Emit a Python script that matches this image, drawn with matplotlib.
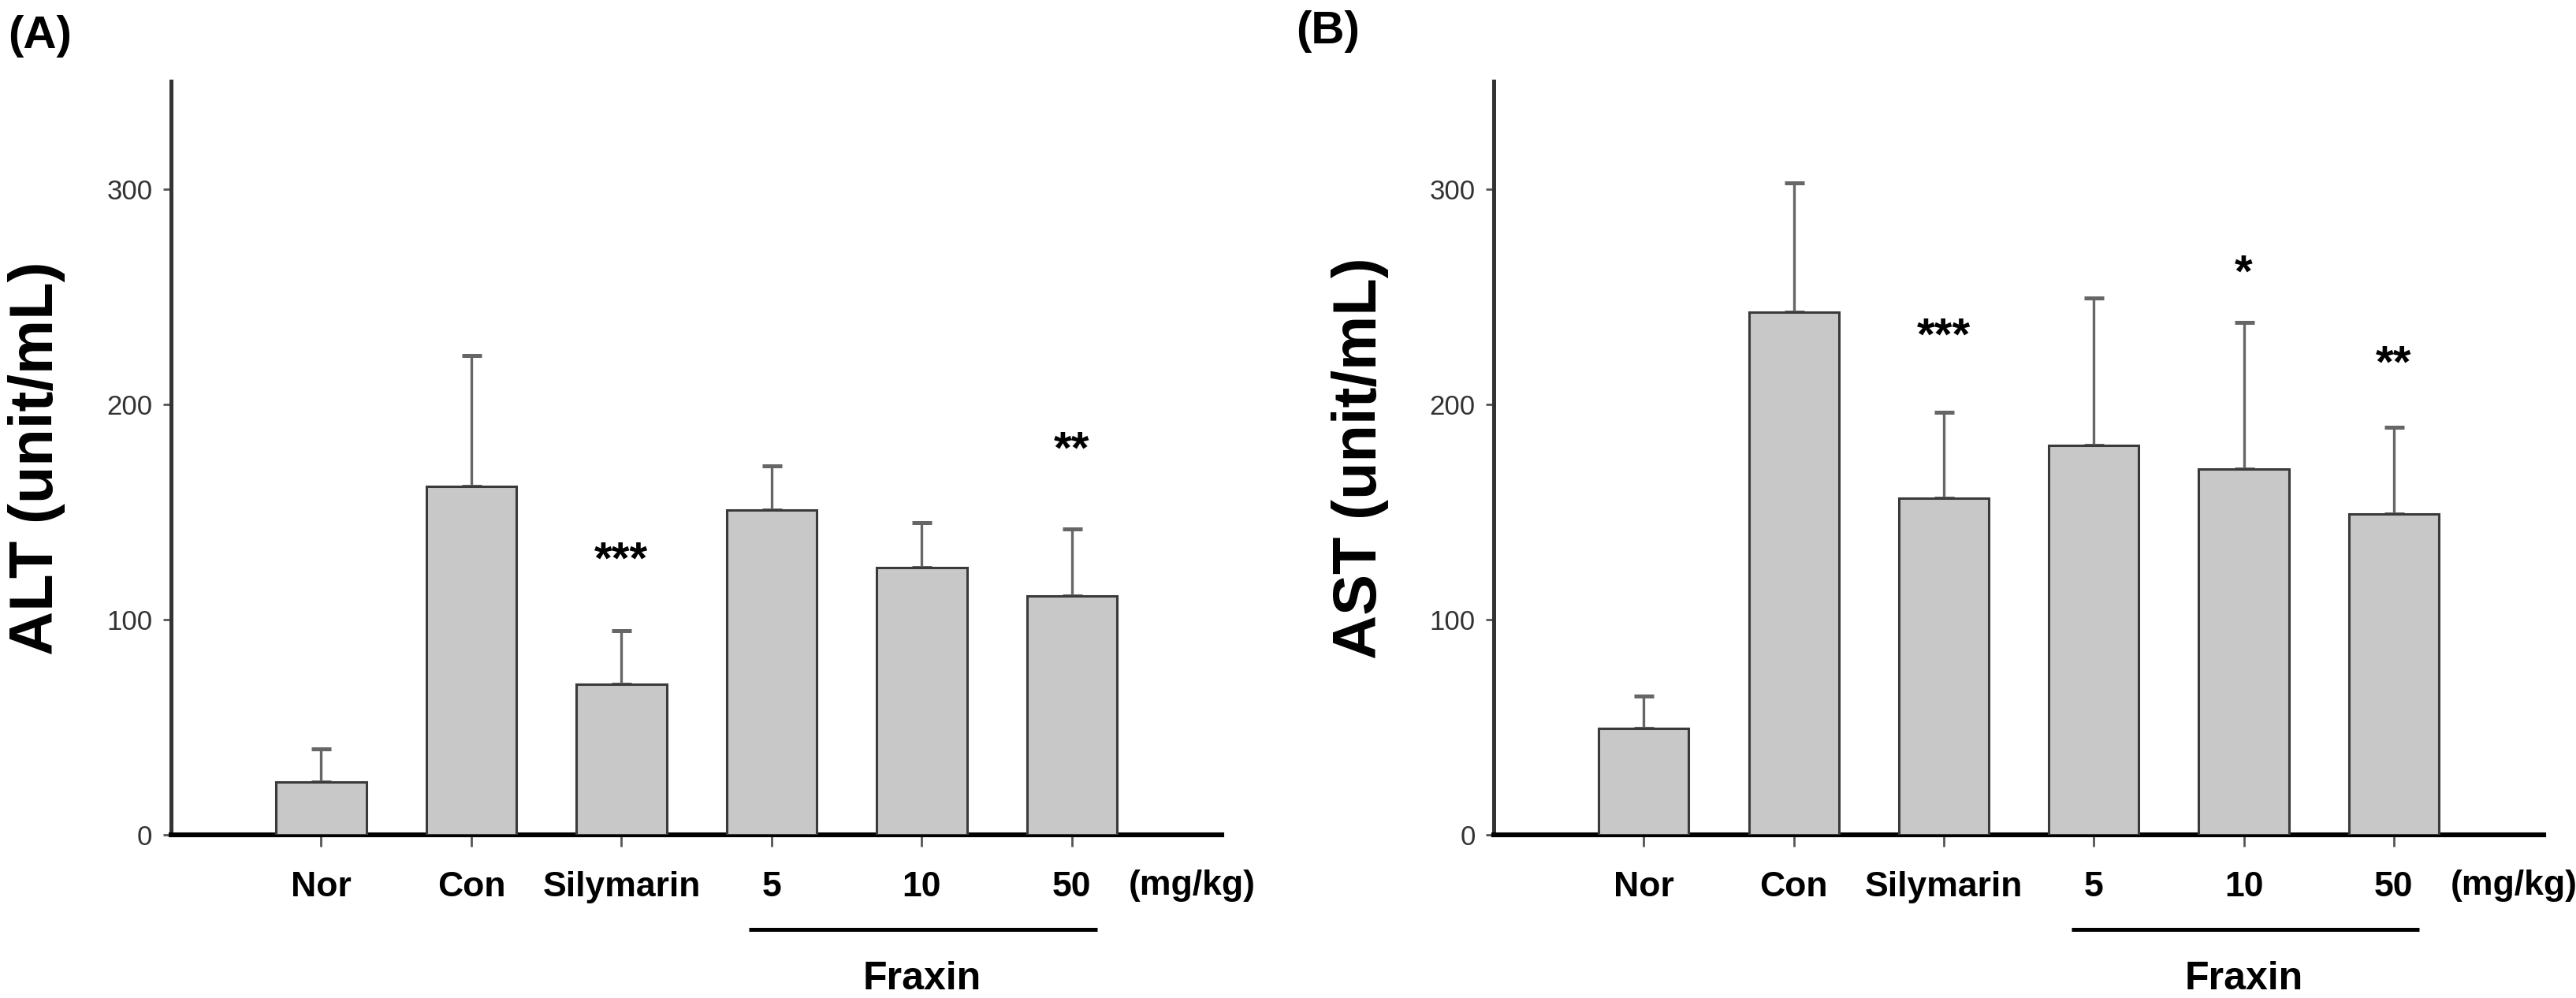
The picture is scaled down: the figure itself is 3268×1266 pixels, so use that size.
import matplotlib
matplotlib.use("Agg")
import matplotlib.pyplot as plt
import numpy as np

plt.rcParams["font.family"] = ["Liberation Sans", "DejaVu Sans"]

# groups on the x axis
groups = ["Nor", "Con", "Silymarin", "5", "10", "50"]

# ALT (panel A)
alt_mean = [24.5, 161.8, 70.0, 151.0, 124.0, 111.0]
alt_err = [15.5, 61.0, 25.0, 20.5, 21.0, 31.0]
alt_stars = ["", "", "***", "", "", "**"]
alt_star_y = [0, 0, 127, 0, 0, 178]

# AST (panel B)
ast_mean = [49.5, 242.7, 156.2, 180.9, 169.8, 149.0]
ast_err = [15.0, 60.0, 40.0, 68.5, 68.3, 40.4]
ast_stars = ["", "", "***", "", "*", "**"]
ast_star_y = [0, 0, 231, 0, 260, 218]

y_ticks = [0, 100, 200, 300]


def draw_panel(ax, means, errs, stars, star_y, ylabel, letter):
    x = np.arange(len(groups))
    ax.bar(x, means, width=0.6, color="#c8c8c8", edgecolor="#3a3a3a",
           linewidth=1.1, zorder=3)
    ax.errorbar(x, means, yerr=[np.zeros(len(errs)), errs], fmt="none",
                ecolor="#666666", elinewidth=1.2, capsize=4.5, capthick=1.8,
                zorder=2)
    for xi, s, sy in zip(x, stars, star_y):
        if s:
            ax.text(xi, sy, s, ha="center", va="center", fontsize=21,
                    fontweight="bold", zorder=4)

    ax.set_xlim(-1, 6)
    ax.set_ylim(0, 350)
    ax.set_yticks(y_ticks)
    ax.set_yticklabels([str(t) for t in y_ticks], fontsize=12.5, color="#333333")
    ax.set_xticks(x)
    ax.set_xticklabels(groups, fontsize=16, fontweight="bold")
    ax.tick_params(axis="x", direction="out", length=5.5, width=1.0,
                   color="#555555", pad=11)
    ax.tick_params(axis="y", direction="out", length=3.5, width=1.0,
                   color="#555555", pad=5)

    for side in ["top", "right"]:
        ax.spines[side].set_visible(False)
    ax.spines["left"].set_color("#333333")
    ax.spines["left"].set_linewidth(1.8)
    ax.spines["bottom"].set_color("black")
    ax.spines["bottom"].set_linewidth(2.2)

    # unit label after the last dose
    ax.text(5.8, -23.5, "(mg/kg)", ha="center", va="center", fontsize=16,
            fontweight="bold", clip_on=False)

    # Fraxin bracket under the dose groups
    ax.plot([x[3] - 0.15, x[5] + 0.17], [-44, -44], color="black", lw=1.8,
            clip_on=False, solid_capstyle="butt")
    ax.text((x[3] + x[5]) / 2, -67, "Fraxin", ha="center", va="center",
            fontsize=18, fontweight="bold", clip_on=False)

    ax.text(-0.1275, 0.5, ylabel, transform=ax.transAxes, rotation=90,
            ha="center", va="center", fontsize=28, fontweight="bold")


fig = plt.figure(figsize=(16.34, 6.33), dpi=200)
ax_a = fig.add_axes([0.0664, 0.1635, 0.408, 0.755])
ax_b = fig.add_axes([0.5799, 0.1635, 0.4076, 0.755])

draw_panel(ax_a, alt_mean, alt_err, alt_stars, alt_star_y, "ALT (unit/mL)", "(A)")
draw_panel(ax_b, ast_mean, ast_err, ast_stars, ast_star_y, "AST (unit/mL)", "(B)")

fig.text(0.003, 0.985, "(A)", ha="left", va="top", fontsize=21, fontweight="bold")
fig.text(0.503, 0.990, "(B)", ha="left", va="top", fontsize=21, fontweight="bold")

fig.savefig("out.png", dpi=200)
